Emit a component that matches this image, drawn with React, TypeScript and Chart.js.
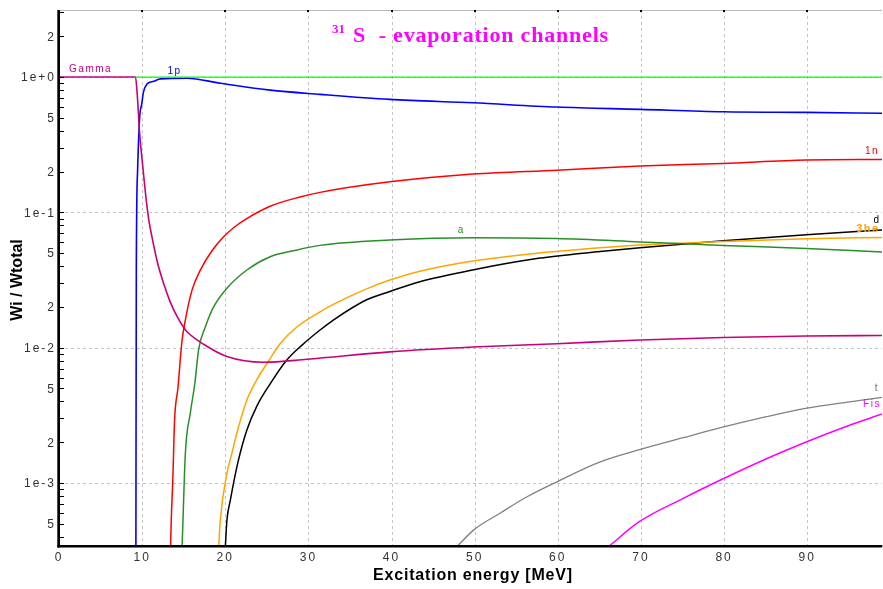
import React, { useEffect, useRef } from 'react';
import { Chart, registerables } from 'chart.js';

Chart.register(...registerables);

// ---------- data ----------
const gammaE = [0, 9.2, 9.4, 9.7, 10.0, 10.4, 10.8, 11.2, 11.8, 12.2, 13.0, 13.4, 14.2, 15.0, 15.4, 17.4, 20.2, 24.6, 29.8, 39.8, 49.8, 59.9, 69.9, 79.9, 89.9, 99];
const gammaW = [1, 1, 0.76, 0.385, 0.243, 0.139, 0.088, 0.065, 0.0437, 0.0355, 0.0251, 0.0216, 0.017, 0.0141, 0.0131, 0.0106, 0.0086, 0.0078, 0.0082, 0.0093, 0.0101, 0.0107, 0.0114, 0.0119, 0.0122, 0.0123];

const totalE = [9.2, 99];
const totalW = [1, 1];

const pE = [9.25, 9.3, 9.45, 9.7, 9.95, 10.15, 10.6, 11.4, 12.2, 15.4, 19.4, 25.4, 31.4, 39.8, 49.8, 59.9, 69.9, 79.9, 89.9, 99];
const pW = [3.3e-4, 0.036, 0.2, 0.5, 0.63, 0.77, 0.89, 0.93, 0.97, 0.98, 0.9, 0.8, 0.745, 0.684, 0.645, 0.60, 0.577, 0.554, 0.548, 0.54];

const nE = [13.42, 13.5, 13.7, 13.9, 14.3, 14.8, 15.2, 16.0, 17.0, 18.4, 19.8, 21.0, 22.2, 25.4, 29.0, 31.4, 39.8, 49.8, 59.9, 69.9, 79.9, 89.9, 99];
const nW = [3.3e-4, 5.2e-4, 1.1e-3, 2.9e-3, 5.0e-3, 0.0113, 0.016, 0.0266, 0.0374, 0.052, 0.066, 0.077, 0.087, 0.111, 0.13, 0.1405, 0.168, 0.192, 0.205, 0.22, 0.23, 0.244, 0.246];

const aE = [14.8, 14.9, 15.2, 15.8, 16.35, 16.8, 17.6, 18.6, 20.2, 22.6, 25.4, 28.2, 31.4, 39.8, 49.8, 59.9, 69.9, 79.9, 89.9, 99];
const aW = [3.3e-4, 5.0e-4, 1.66e-3, 3.3e-3, 5.5e-3, 0.0097, 0.0142, 0.02, 0.0275, 0.0375, 0.047, 0.052, 0.057, 0.0624, 0.065, 0.064, 0.0605, 0.057, 0.054, 0.051];

const heE = [19.2, 19.4, 20.2, 20.8, 21.6, 22.6, 23.8, 25.0, 26.6, 28.6, 31.4, 33.0, 37.0, 39.8, 43.4, 49.8, 57.0, 65.1, 69.9, 79.9, 89.9, 99];
const heW = [3.3e-4, 5.3e-4, 1.18e-3, 1.66e-3, 2.6e-3, 4.1e-3, 5.8e-3, 0.0076, 0.0107, 0.0142, 0.0184, 0.0209, 0.0272, 0.0316, 0.0367, 0.0437, 0.0495, 0.0547, 0.0573, 0.061, 0.0637, 0.0653];

const dE = [20.0, 20.2, 20.6, 21.5, 22.6, 23.8, 25.4, 27.4, 29.2, 31.4, 33.0, 37.0, 39.8, 43.4, 49.9, 57.1, 65.1, 69.9, 79.9, 89.9, 99];
const dW = [3.3e-4, 5.3e-4, 7.4e-4, 1.4e-3, 2.46e-3, 3.7e-3, 5.4e-3, 8.1e-3, 0.0104, 0.0135, 0.016, 0.0226, 0.026, 0.0307, 0.0377, 0.0452, 0.0513, 0.0547, 0.0617, 0.0684, 0.074];

const tE = [47.7, 49.9, 53.1, 56.3, 59.9, 65.1, 69.8, 75.1, 79.7, 85.1, 89.8, 95.1, 99];
const tW = [3.3e-4, 4.5e-4, 6.0e-4, 7.9e-4, 1.02e-3, 1.43e-3, 1.76e-3, 2.16e-3, 2.57e-3, 3.09e-3, 3.56e-3, 3.98e-3, 4.29e-3];

const fisE = [65.9, 69.8, 75.1, 79.7, 85.1, 89.8, 95.1, 99];
const fisW = [3.3e-4, 5.17e-4, 7.7e-4, 1.06e-3, 1.51e-3, 2.0e-3, 2.67e-3, 3.23e-3];

// ---------- ticks ----------
const xTickValues = [0, 10, 20, 30, 40, 50, 60, 70, 80, 90];
const yDecades = [1e-4, 1e-3, 1e-2, 1e-1, 1];
const yMultipliers = [1, 2, 3, 4, 5, 6, 7, 8, 9];
const yLabeledMultipliers = [2, 5];
const decadeLabels = ['1e-4', '1e-3', '1e-2', '1e-1', '1e+0'];

const X_MIN = 0, X_MAX = 99, Y_MIN = 3.42e-4, Y_MAX = 3.13;

// ---------- curve labels (annotation text anchored in data coords) ----------
const curveLabels = [
  { text: 'Gamma', e: 3.8, w: 1.15, color: '#c8007a', bold: false },
  { text: '1p', e: 13.9, w: 1.11, color: '#0000ff', bold: false },
  { text: '1n', e: 97.8, w: 0.283, color: '#ff0000', bold: false },
  { text: 'a', e: 48.4, w: 0.074, color: '#2a8f2a', bold: false },
  { text: 'd', e: 98.4, w: 0.087, color: '#000000', bold: false },
  { text: '3he', e: 97.3, w: 0.075, color: '#ffa500', bold: true },
  { text: 't', e: 98.4, w: 0.005, color: '#707070', bold: false },
  { text: 'Fis', e: 97.8, w: 0.0038, color: '#ff00ff', bold: false },
];

const yTicks: { v: number; label: string }[] = [];
yDecades.forEach((d, i) => {
  yMultipliers.forEach((m) => {
    const v = d * m;
    if (v < Y_MIN || v > Y_MAX) return;
    let label = '';
    if (m === 1) label = decadeLabels[i];
    else if (yLabeledMultipliers.includes(m)) label = String(m);
    yTicks.push({ v, label });
  });
});

function pts(xs: number[], ys: number[]) {
  return xs.map((x, i) => ({ x, y: ys[i] }));
}

const FONT = '"Liberation Sans", Arial, sans-serif';

const overlay = {
  id: 'overlay',
  beforeDatasetsDraw(chart: any) {
    const { ctx, chartArea: a, scales } = chart;
    const xs = scales.x, ys = scales.y;
    ctx.save();
    ctx.strokeStyle = '#c4c4c4';
    ctx.lineWidth = 1;
    ctx.setLineDash([3, 3]);
    for (const v of xTickValues) {
      const px = Math.round(xs.getPixelForValue(v)) + 0.5;
      ctx.beginPath(); ctx.moveTo(px, a.top); ctx.lineTo(px, a.bottom); ctx.stroke();
    }
    for (const d of yDecades) {
      if (d < Y_MIN || d > Y_MAX) continue;
      const py = Math.round(ys.getPixelForValue(d)) + 0.5;
      ctx.beginPath(); ctx.moveTo(a.left, py); ctx.lineTo(a.right, py); ctx.stroke();
    }
    ctx.setLineDash([]);
    // top border
    ctx.strokeStyle = '#b8b8b8';
    ctx.beginPath(); ctx.moveTo(a.left, a.top + 0.5); ctx.lineTo(a.right, a.top + 0.5); ctx.stroke();
    ctx.fillStyle = '#000';
    for (const v of xTickValues) {
      const px = Math.round(xs.getPixelForValue(v));
      ctx.fillRect(px - 1, a.top, 2, 2);
    }
    ctx.restore();
  },
  afterDatasetsDraw(chart: any) {
    const { ctx, chartArea: a, scales } = chart;
    const xs = scales.x, ys = scales.y;
    ctx.save();
    // inward y tick marks + labels
    ctx.strokeStyle = '#000';
    ctx.lineWidth = 1;
    ctx.font = `12px ${FONT}`;
    (ctx as any).letterSpacing = '2px';
    ctx.textAlign = 'right';
    ctx.textBaseline = 'middle';
    for (const t of yTicks) {
      const yp = ys.getPixelForValue(t.v);
      const py = Math.round(yp) + 0.5;
      ctx.beginPath(); ctx.moveTo(a.left, py); ctx.lineTo(a.left + 5, py); ctx.stroke();
      if (t.label) {
        ctx.fillStyle = '#333';
        ctx.fillText(t.label, a.left - 3, yp + 1);
      }
    }
    // axes
    ctx.fillStyle = '#000';
    ctx.fillRect(a.left - 1.7, a.top, 2.7, a.bottom - a.top + 1.5);
    ctx.fillRect(a.left - 1.7, a.bottom - 1, a.right - a.left + 2, 2.5);

    // curve labels
    (ctx as any).letterSpacing = '1.5px';
    ctx.textAlign = 'center';
    ctx.textBaseline = 'middle';
    for (const l of curveLabels) {
      ctx.font = l.bold ? `bold 11px ${FONT}` : `10px ${FONT}`;
      ctx.fillStyle = l.color;
      ctx.fillText(l.text, xs.getPixelForValue(l.e), ys.getPixelForValue(l.w));
    }

    // title
    (ctx as any).letterSpacing = '0px';
    ctx.textAlign = 'left';
    ctx.textBaseline = 'alphabetic';
    ctx.fillStyle = '#ff00ff';
    ctx.font = `bold 13px "Liberation Serif", "Times New Roman", serif`;
    ctx.fillText('31', 332, 33);
    ctx.font = `bold 22px "Liberation Serif", "Times New Roman", serif`;
    (ctx as any).letterSpacing = '0.8px';
    ctx.fillText('S  - evaporation channels', 353, 42);

    // axis titles
    ctx.fillStyle = '#000';
    ctx.font = `bold 16px ${FONT}`;
    (ctx as any).letterSpacing = '0.8px';
    ctx.textAlign = 'center';
    ctx.textBaseline = 'middle';
    ctx.fillText('Excitation energy [MeV]', 473, 576);
    (ctx as any).letterSpacing = '0px';
    ctx.translate(18, 280);
    ctx.rotate(-Math.PI / 2);
    ctx.fillText('Wi / Wtotal', 0, 0);
    ctx.restore();
  },
};

const spacingPlugin = {
  id: 'spacing',
  beforeDraw(chart: any) {
    (chart.ctx as any).letterSpacing = '2px';
  },
};

export default function App() {
  const ref = useRef<HTMLCanvasElement | null>(null);
  useEffect(() => {
    if (!ref.current) return;
    const line = (label: string, data: any[], color: string, width = 1.5) => ({
      label, data, borderColor: color, backgroundColor: color, borderWidth: width,
      pointRadius: 0, fill: false, cubicInterpolationMode: 'monotone',
    });
    const chart = new Chart(ref.current, {
      type: 'line',
      data: {
        datasets: [
          line('total', pts(totalE, totalW), '#00ff00', 1.3),
          line('Gamma', pts(gammaE, gammaW), '#c8007a', 1.6),
          line('1p', pts(pE, pW), '#0000ff', 1.6),
          line('1n', pts(nE, nW), '#ff0000', 1.5),
          line('a', pts(aE, aW), '#2a8f2a', 1.5),
          line('3he', pts(heE, heW), '#ffa500', 1.5),
          line('d', pts(dE, dW), '#000000', 1.5),
          line('t', pts(tE, tW), '#808080', 1.3),
          line('Fis', pts(fisE, fisW), '#ff00ff', 1.5),
        ],
      },
      options: {
        animation: false,
        responsive: false,
        devicePixelRatio: 1,
        parsing: false as any,
        layout: { padding: { top: 10, right: 1, left: 0, bottom: 0 } },
        plugins: { legend: { display: false }, tooltip: { enabled: false }, title: { display: false } },
        scales: {
          x: {
            type: 'linear',
            bounds: 'data',
            min: X_MIN,
            max: X_MAX,
            grid: { display: false, drawTicks: false },
            border: { display: false },
            afterBuildTicks: (s: any) => { s.ticks = xTickValues.map((v) => ({ value: v })); },
            afterFit: (s: any) => { s.height = 43; },
            ticks: {
              autoSkip: false,
              maxRotation: 0,
              padding: 4,
              color: '#333',
              font: { family: FONT, size: 12 },
              callback: (v: any) => String(v),
            },
          },
          y: {
            type: 'logarithmic',
            bounds: 'data',
            min: Y_MIN,
            max: Y_MAX,
            grid: { display: false, drawTicks: false },
            border: { display: false },
            afterFit: (s: any) => { s.width = 59; },
            ticks: { display: false },
          },
        },
      },
      plugins: [spacingPlugin, overlay],
    } as any);
    return () => chart.destroy();
  }, []);
  return (
    <div style={{ position: 'fixed', left: 0, top: 0, width: 883, height: 589, background: '#fff' }}>
      <canvas ref={ref} width={883} height={589} />
    </div>
  );
}
